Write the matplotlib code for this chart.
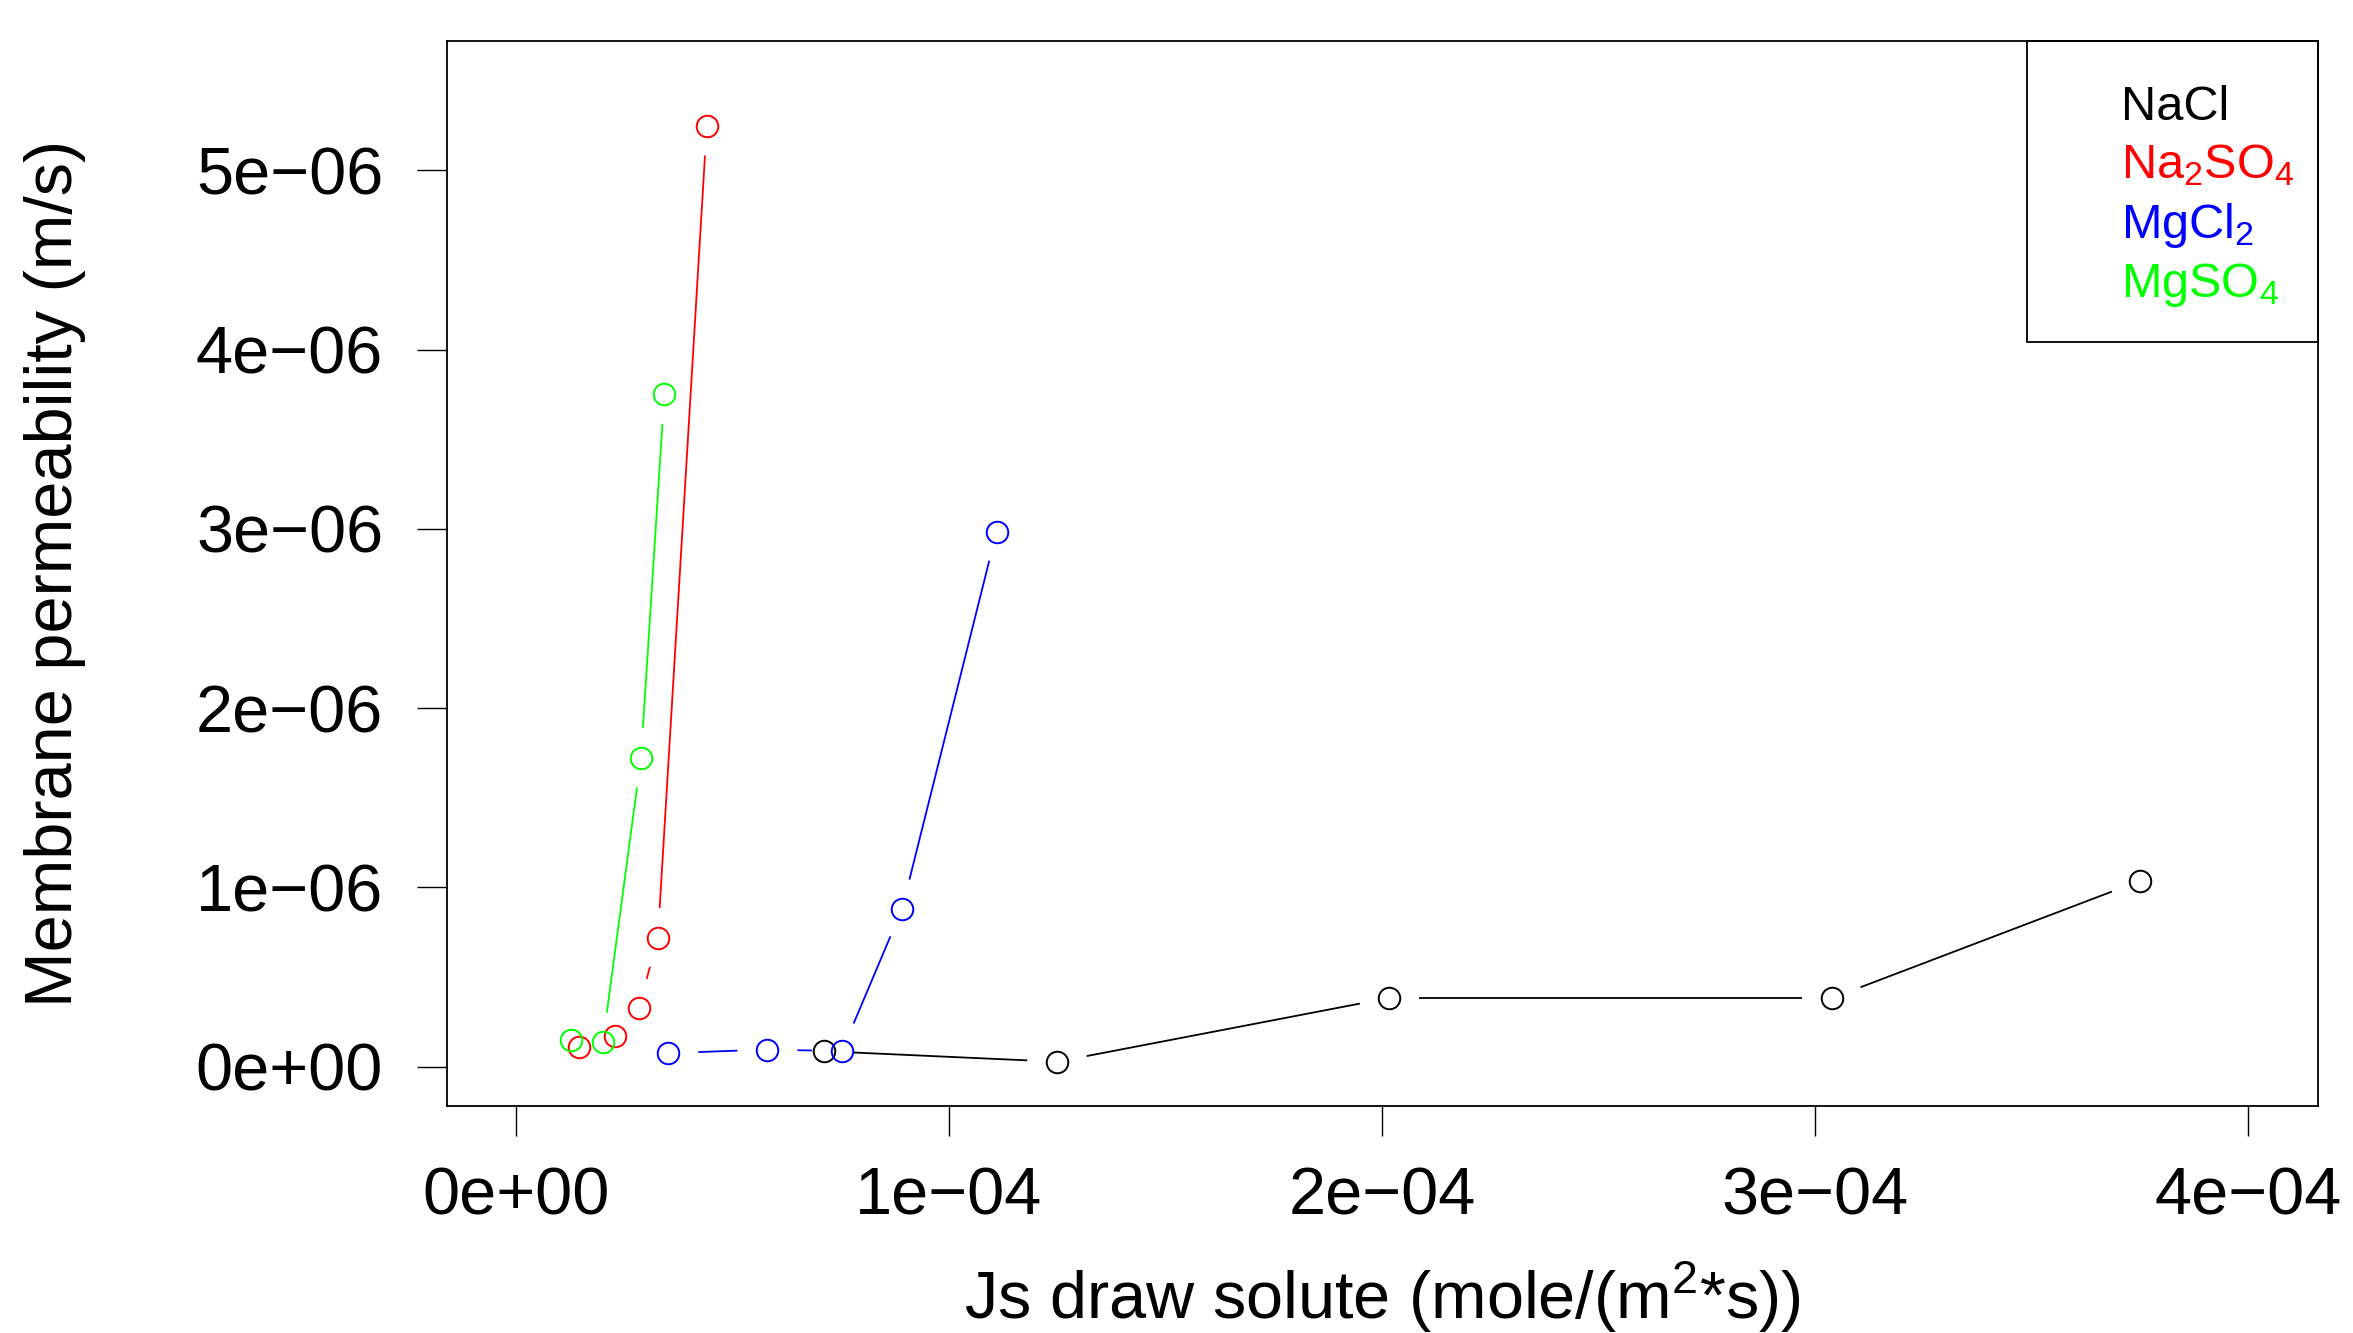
import numpy as np
import matplotlib
matplotlib.use("Agg")
import matplotlib.pyplot as plt
from matplotlib.patches import Rectangle

plt.rcParams['font.family'] = ['Liberation Sans', 'DejaVu Sans']
plt.rcParams['mathtext.default'] = 'regular'

# Values (x: Js draw solute, y: membrane permeability)
nacl_x = [0.711e-4, 1.250e-4, 2.017e-4, 3.040e-4, 3.750e-4]
nacl_y = [0.086e-6, 0.027e-6, 0.383e-6, 0.383e-6, 1.036e-6]

na2so4_x = [0.147e-4, 0.228e-4, 0.284e-4, 0.328e-4, 0.441e-4]
na2so4_y = [0.107e-6, 0.169e-6, 0.328e-6, 0.718e-6, 5.250e-6]

mgcl2_x = [0.352e-4, 0.581e-4, 0.753e-4, 0.892e-4, 1.110e-4]
mgcl2_y = [0.075e-6, 0.095e-6, 0.086e-6, 0.881e-6, 2.985e-6]

mgso4_x = [0.128e-4, 0.201e-4, 0.289e-4, 0.343e-4]
mgso4_y = [0.149e-6, 0.135e-6, 1.723e-6, 3.753e-6]

series_names = ["NaCl", "Na$_2$SO$_4$", "MgCl$_2$", "MgSO$_4$"]
series_colors = ["black", "#FF0000", "#0000FF", "#00FF00"]

x_ticks = [0, 1e-4, 2e-4, 3e-4, 4e-4]
x_tick_labels = ["0e+00", "1e\u221204", "2e\u221204", "3e\u221204", "4e\u221204"]
y_ticks = [0, 1e-6, 2e-6, 3e-6, 4e-6, 5e-6]
y_tick_labels = ["0e+00", "1e\u221206", "2e\u221206", "3e\u221206", "4e\u221206", "5e\u221206"]

GAP = 30   # pixel gap between line ends and point centres (like R type="b")
LW = 1.3

fig = plt.figure(figsize=(23.53, 13.33), dpi=100)
ax = fig.add_axes([0.18976, 0.17029, 0.79516, 0.79865])

# R default: 4% padding around xlim=c(0,4e-4), ylim=c(0,5.5e-6)
ax.set_xlim(-0.04 * 4e-4, 4e-4 * 1.04)
ax.set_ylim(-0.04 * 5.5e-6, 5.5e-6 * 1.04)


def plot_b(ax, x, y, color):
    # lines with gaps around the points, then open circles
    pts = ax.transData.transform(np.column_stack([x, y]))
    inv = ax.transData.inverted()
    for p0, p1 in zip(pts[:-1], pts[1:]):
        d = p1 - p0
        L = np.hypot(d[0], d[1])
        if L <= 2 * GAP:
            continue
        u = d / L
        seg = inv.transform([p0 + u * GAP, p1 - u * GAP])
        ax.plot(seg[:, 0], seg[:, 1], color=color, lw=LW, solid_capstyle='butt')
    ax.plot(x, y, 'o', mfc='none', mec=color, ms=15.5, mew=1.4, ls='none')


all_x = [nacl_x, na2so4_x, mgcl2_x, mgso4_x]
all_y = [nacl_y, na2so4_y, mgcl2_y, mgso4_y]
for xs, ys, c in zip(all_x, all_y, series_colors):
    plot_b(ax, xs, ys, c)

ax.set_xticks(x_ticks)
ax.set_xticklabels(x_tick_labels)
ax.set_yticks(y_ticks)
ax.set_yticklabels(y_tick_labels)
ax.tick_params(axis='both', direction='out', length=21.6, width=1.0, labelsize=48)
ax.tick_params(axis='x', pad=22)
ax.tick_params(axis='y', pad=24)
for sp in ax.spines.values():
    sp.set_linewidth(1.3)

ax.set_xlabel("Js draw solute (mole/(m$^2$*s))", fontsize=48, va='baseline')
ax.xaxis.set_label_coords(0.5, -0.2001)
ax.set_ylabel("Membrane permeability (m/s)", fontsize=48, va='center')
ax.yaxis.set_label_coords(-0.2092, 0.5)

# legend box drawn like R's legend() without symbols
ax.add_patch(Rectangle((0.8447, 0.7176), 1 - 0.8447, 1 - 0.7176, transform=ax.transAxes,
                       fill=False, lw=1.3, ec='black', clip_on=False))
leg_y = [0.9266, 0.8711, 0.8157, 0.7603]
for name, c, yy in zip(series_names, series_colors, leg_y):
    ax.text(0.895, yy, name, color=c, fontsize=35, transform=ax.transAxes,
            ha='left', va='baseline')

fig.savefig("out.png", dpi=100)
